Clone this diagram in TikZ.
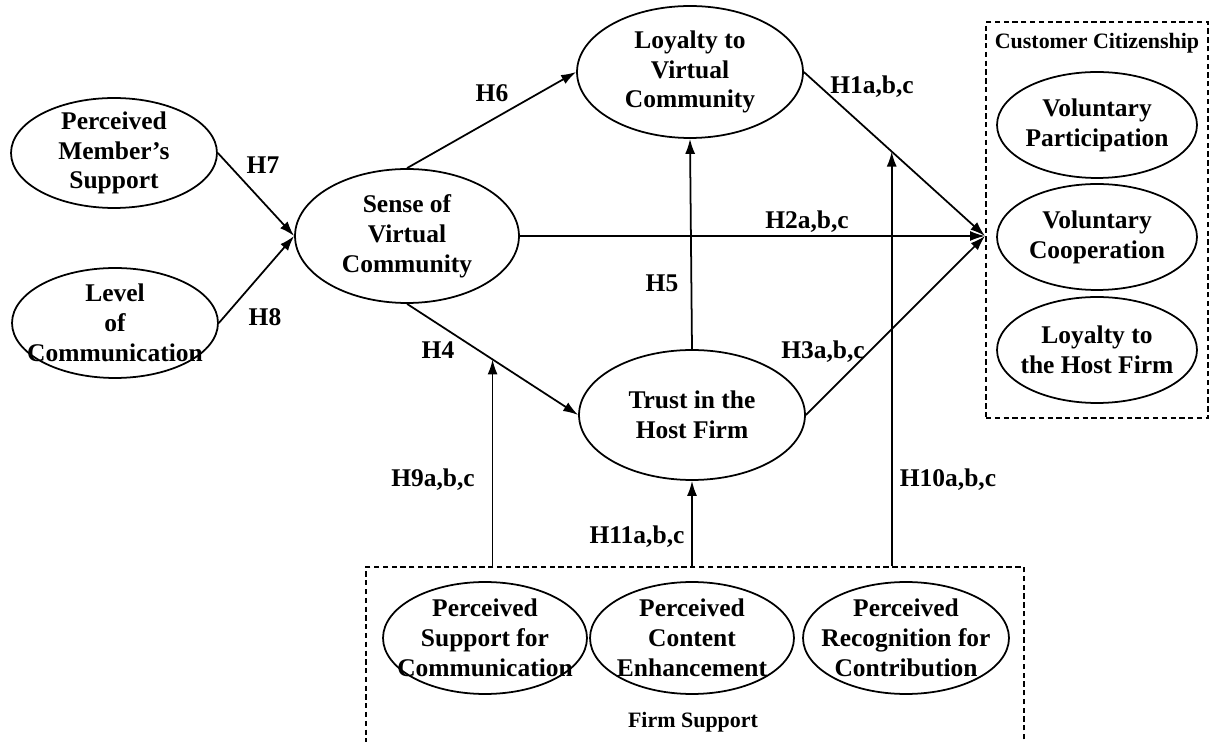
\documentclass[tikz,border=0pt]{standalone}
\usepackage{fontspec}
\setmainfont{Liberation Serif}
\usetikzlibrary{arrows.meta,calc}
\usetikzlibrary{shapes,shapes.geometric}
\tikzset{>={Latex[length=3mm,width=2mm]}}
\tikzset{construct/.style={ellipse, draw, line width=1pt, inner xsep=-2cm, inner ysep=-1cm, align=center,
    font=\bfseries\fontsize{14.5}{17}\selectfont}}
\tikzset{hyp/.style={font=\bfseries\fontsize{14.5}{17}\selectfont}}
\tikzset{grouptitle/.style={font=\bfseries\fontsize{12.5}{15}\selectfont}}
\tikzset{groupbox/.style={draw, line width=0.9pt, dash pattern=on 3pt off 2pt, inner sep=0pt}}

\begin{document}
\begin{tikzpicture}[x=0.02cm, y=-0.02cm, line width=1pt]
      \useasboundingbox (0,0) rectangle (1214,742);
      % antecedents
      \node[construct, minimum width=4.12cm, minimum height=2.2cm] (pms) at (114,153) {Perceived\\Member's\\Support};
      \node[construct, minimum width=4.12cm, minimum height=2.2cm] (loc) at (115,323) {Level\\of\\Communication};
      \node[construct, minimum width=4.48cm, minimum height=2.68cm] (svc) at (407,236) {Sense of\\Virtual\\Community};
      \node[construct, minimum width=4.52cm, minimum height=2.64cm] (lvc) at (690,72) {Loyalty to\\Virtual\\Community};
      \node[construct, minimum width=4.52cm, minimum height=2.6cm] (thf) at (692,415) {Trust in the\\Host Firm};
      % customer citizenship
      \node[groupbox, minimum width=4.44cm, minimum height=7.92cm] (cc) at (1097,220) {};
      \node[grouptitle] (cctitle) at (1097,43) {Customer Citizenship};
      \node[construct, minimum width=4cm, minimum height=2.12cm] (vp) at (1097,125) {Voluntary\\Participation};
      \node[construct, minimum width=4cm, minimum height=2.12cm] (vco) at (1097,237) {Voluntary\\Cooperation};
      \node[construct, minimum width=4cm, minimum height=2.12cm] (lhf) at (1097,350) {Loyalty to\\the Host Firm};
      % firm support
      \node[groupbox, minimum width=13.16cm, minimum height=4.52cm] (fs) at (695,680) {};
      \node[grouptitle] (fstitle) at (693,722) {Firm Support};
      \node[construct, minimum width=4.08cm, minimum height=2.24cm] (psc) at (485,638) {Perceived\\Support for\\Communication};
      \node[construct, minimum width=4.08cm, minimum height=2.24cm] (pce) at (692,638) {Perceived\\Content\\Enhancement};
      \node[construct, minimum width=4.12cm, minimum height=2.24cm] (prc) at (906,638) {Perceived\\Recognition for\\Contribution};
      % paths
      \coordinate (hub) at (985,236);
      \draw[->] (pms.east) -- (svc.west);
      \draw[->] (loc.east) -- (svc.west);
      \draw[->] (svc.north) -- (lvc.west);
      \draw[->] (svc.east) -- (hub);
      \draw[->] (lvc.east) -- (hub);
      \draw[->] (thf.east) -- (hub);
      \draw[->] (thf.north) -- (lvc.south);
      \draw[->] (svc.south) -- (thf.west);
      \coordinate (h4mid) at ($(svc.south)!0.5!(thf.west)$);
      \coordinate (h1mid) at ($(lvc.east)!0.485!(hub)$);
      \draw[->] (h4mid |- fs.north) -- (h4mid);
      \draw[->] (h1mid |- fs.north) -- (h1mid);
      \draw[->] (pce.north |- fs.north) -- (thf.south);
      % hypotheses
      \node[hyp] (h7) at (263,165) {H7};
      \node[hyp] (h8) at (265,317) {H8};
      \node[hyp] (h6) at (492,93) {H6};
      \node[hyp] (h1) at (872,87) {H1a,b,c};
      \node[hyp] (h2) at (807,222) {H2a,b,c};
      \node[hyp] (h5) at (662,283) {H5};
      \node[hyp] (h4) at (438,350) {H4};
      \node[hyp] (h3) at (823,352) {H3a,b,c};
      \node[hyp] (h9) at (433,480) {H9a,b,c};
      \node[hyp] (h10) at (948,480) {H10a,b,c};
      \node[hyp] (h11) at (637,537) {H11a,b,c};
\end{tikzpicture}
\end{document}
